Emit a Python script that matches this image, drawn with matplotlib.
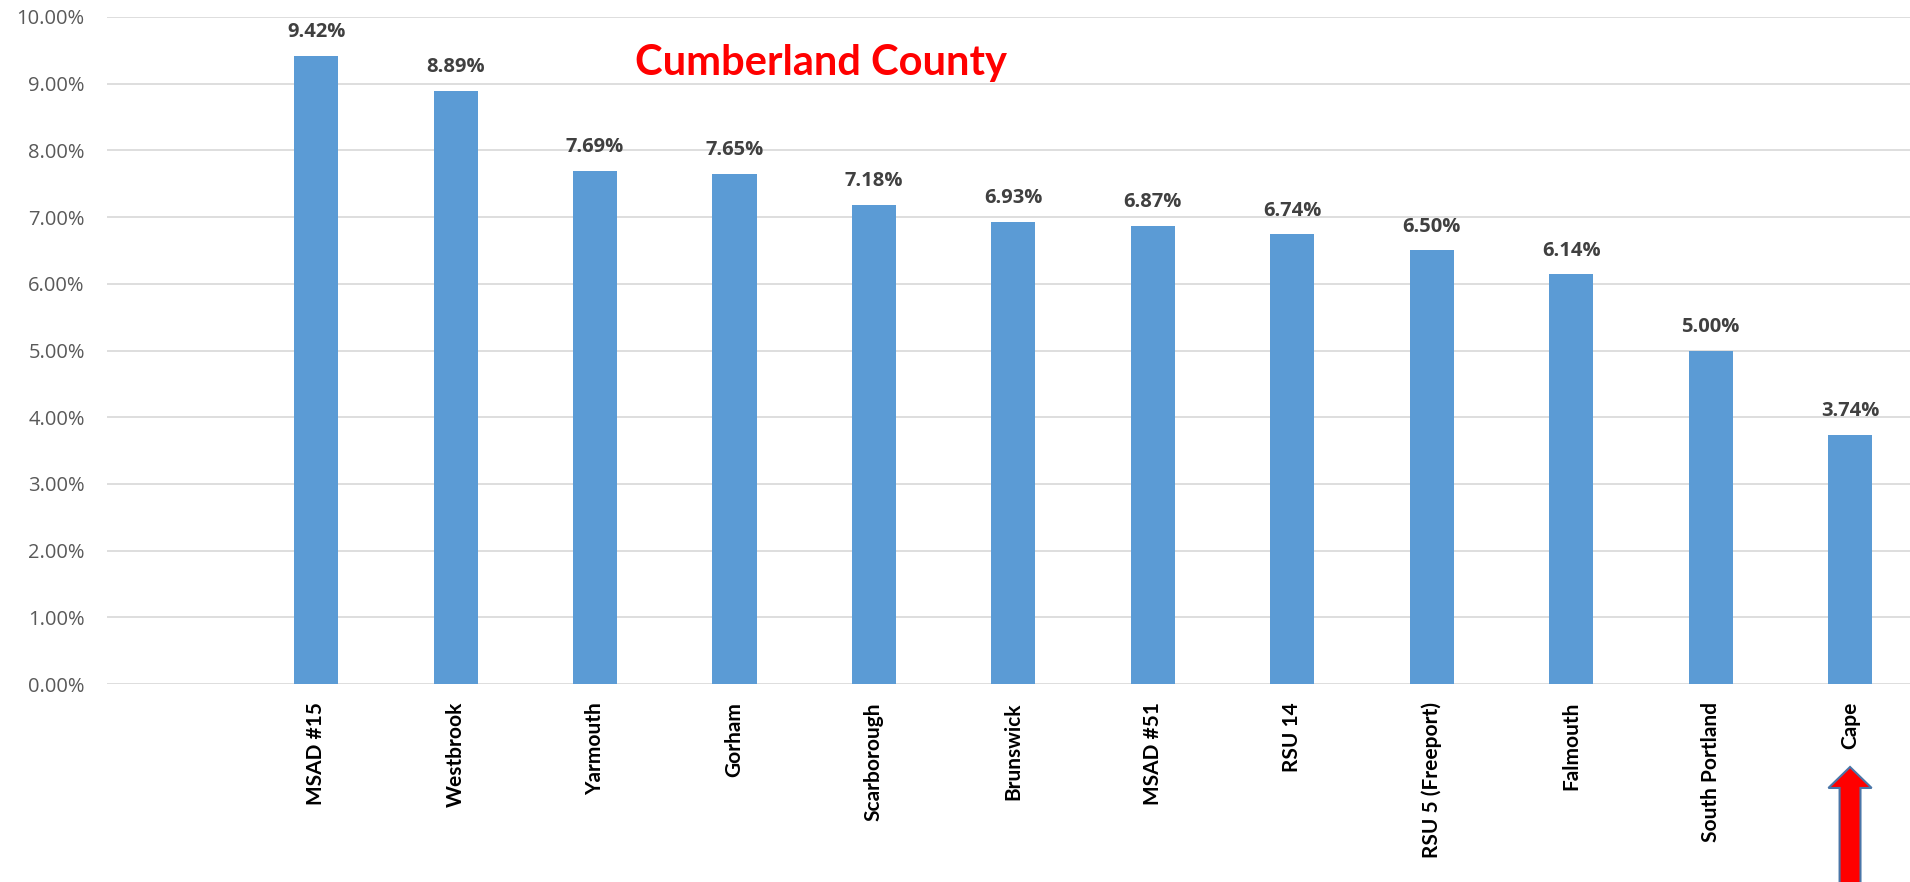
import matplotlib
matplotlib.use('Agg')
import matplotlib.pyplot as plt
import matplotlib.transforms as mtransforms
from matplotlib.patches import FancyArrow
from matplotlib.ticker import FuncFormatter

# data
districts = ['MSAD #15', 'Westbrook', 'Yarmouth', 'Gorham', 'Scarborough', 'Brunswick',
             'MSAD #51', 'RSU 14', 'RSU 5 (Freeport)', 'Falmouth', 'South Portland', 'Cape']
rates = [9.42, 8.89, 7.69, 7.65, 7.18, 6.93, 6.87, 6.74, 6.50, 6.14, 5.00, 3.74]
y_ticks = [0, 1, 2, 3, 4, 5, 6, 7, 8, 9, 10]
title = 'Cumberland County'
highlight = 'Cape'

plt.rcParams['font.family'] = ['Lato', 'DejaVu Sans']

fig = plt.figure(figsize=(19.1, 8.82), dpi=100)
ax = fig.add_axes([107 / 1910, 198 / 882, 1 - 107 / 1910, 667 / 882])

x = list(range(len(districts)))
bars = ax.bar(x, rates, width=0.316, color='#5B9BD5', zorder=3)

# value labels on top of bars
for xi, v in zip(x, rates):
    ax.annotate(f'{v:.2f}%', (xi, v), xytext=(0, 10), textcoords='offset points',
                ha='center', va='bottom', fontsize=14.5, fontweight='bold', color='#404040',
                family=['Open Sans', 'DejaVu Sans'])

ax.set_xlim(-1.5, 11.43)
ax.set_ylim(0, 10)
ax.set_yticks(y_ticks)
ax.yaxis.set_major_formatter(FuncFormatter(lambda v, p: f'{v:.2f}%'))
ax.tick_params(axis='y', length=0, pad=16, labelsize=14.5, labelcolor='#595959')
for lbl in ax.get_yticklabels():
    lbl.set_family(['Open Sans', 'DejaVu Sans'])
ax.set_xticks(x)
ax.set_xticklabels(districts, rotation=90, fontsize=15, fontweight='bold', color='black')
ax.tick_params(axis='x', length=0, pad=13)

ax.grid(axis='y', color='#D9D9D9', linewidth=1.25, zorder=0)
for spine in ax.spines.values():
    spine.set_visible(False)

fig.text(0.430, 0.915, title, color='red', fontsize=30, fontweight='bold',
         ha='center', va='baseline')

# red arrow pointing at the highlighted district
trans = mtransforms.blended_transform_factory(ax.transData, fig.transFigure)
xi = districts.index(highlight)
arrow = FancyArrow(xi, -0.01, 0, 0.1404, width=0.15, head_width=0.31, head_length=0.0238,
                   length_includes_head=True, facecolor='red', edgecolor='#4A76A8',
                   linewidth=1.5, transform=trans, clip_on=False)
fig.add_artist(arrow)

fig.savefig('out.png', dpi=100)
